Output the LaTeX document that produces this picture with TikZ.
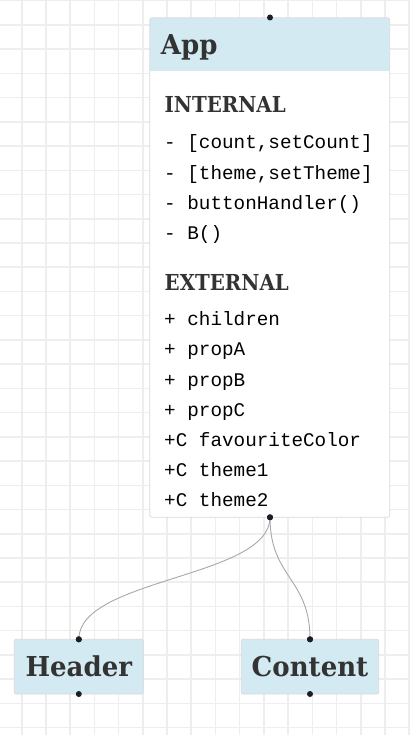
\documentclass[tikz,border=0pt]{standalone}
\usepackage{fontspec}
\setmainfont{DejaVu Serif}
\newfontfamily\monof{Liberation Mono}
\newfontfamily\headf[FakeStretch=0.95]{DejaVu Serif}
\newfontfamily\secf[FakeStretch=0.90]{DejaVu Serif}
\definecolor{gridc}{HTML}{EEEEEE}
\definecolor{boxline}{HTML}{D9D9D9}
\definecolor{headfill}{HTML}{D3EAF2}
\definecolor{txt}{HTML}{333333}
\definecolor{dotc}{HTML}{1C1C2A}
\definecolor{linkc}{HTML}{A8A8A8}
\begin{document}
\begin{tikzpicture}[x=1pt,y=-1pt,
  compbox/.style={draw=boxline,fill=headfill,rounded corners=2pt,line width=0.8pt,inner sep=0pt,
    minimum height=54.7pt,text height=20.1pt,text depth=0pt,text=txt,
    font=\headf\bfseries\fontsize{27.4}{30}\selectfont},
  title/.style={anchor=base west,inner sep=0pt,text=txt,font=\headf\bfseries\fontsize{27.4}{30}\selectfont},
  section/.style={anchor=base west,inner sep=0pt,text=txt,font=\secf\bfseries\fontsize{22}{24}\selectfont},
  member/.style={anchor=base west,inner sep=0pt,text=black,font=\monof\fontsize{19.3}{22}\selectfont},
  port/.style={circle,fill=dotc,inner sep=0pt,minimum size=6pt},
  link/.style={draw=linkc,line width=0.9pt}]
\useasboundingbox (0,0) rectangle (410,735);
\fill[white] (0,0) rectangle (410,735);
% grid
\foreach \i in {0,...,16} \draw[gridc,line width=1.6pt] ({21.7+24.22*\i},0) -- ({21.7+24.22*\i},735);
\foreach \j in {0,...,30} \draw[gridc,line width=1.6pt] (0,{0.7+24.23*\j}) -- (410,{0.7+24.23*\j});
% App box
\node[draw=none,fill=white,rounded corners=2pt,minimum width=239.5pt,minimum height=499pt,inner sep=0pt] (app) at (269.75,267.5) {};
\begin{scope}
\clip[rounded corners=2pt] (app.north west) rectangle (app.south east);
\fill[headfill] (app.north west) rectangle (389.5,71.5);
\end{scope}
\draw[boxline,line width=0.8pt,rounded corners=2pt] (app.north west) rectangle (app.south east);
\node[title] (apptitle) at (160.7,55) {App};
\node[section] (internal) at (164.5,113) {INTERNAL};
\node[member] (m1) at (164,148.9) {- [count,setCount]};
\node[member] (m2) at (164,179.1) {- [theme,setTheme]};
\node[member] (m3) at (164,209.3) {- buttonHandler()};
\node[member] (m4) at (164,239.5) {- B()};
\node[section] (external) at (164.5,290) {EXTERNAL};
\node[member] (e1) at (164,325.6) {+ children};
\node[member] (e2) at (164,355.8) {+ propA};
\node[member] (e3) at (164,386) {+ propB};
\node[member] (e4) at (164,416.2) {+ propC};
\node[member] (e5) at (164,446.4) {+C favouriteColor};
\node[member] (e6) at (164,476.6) {+C theme1};
\node[member] (e7) at (164,506.8) {+C theme2};
% children
\node[compbox,minimum width=129pt] (header) at (78.8,666.65) {Header};
\node[compbox,minimum width=137.4pt] (content) at (310,666.65) {Content};
% ports
\node[port] (apptop) at (270,17.5) {};
\node[port] (appbot) at (270,517.3) {};
\node[port] (headtop) at (78.8,639.3) {};
\node[port] (headbot) at (78.8,694) {};
\node[port] (conttop) at (310,639.3) {};
\node[port] (contbot) at (310,694) {};
% links
\draw[link] (appbot.center) .. controls (270,578) and (78.8,578) .. (headtop.center);
\draw[link] (appbot.center) .. controls (270,578) and (310,578) .. (conttop.center);
\node[port] at (appbot) {};
\node[port] at (headtop) {};
\node[port] at (conttop) {};
\end{tikzpicture}
\end{document}
